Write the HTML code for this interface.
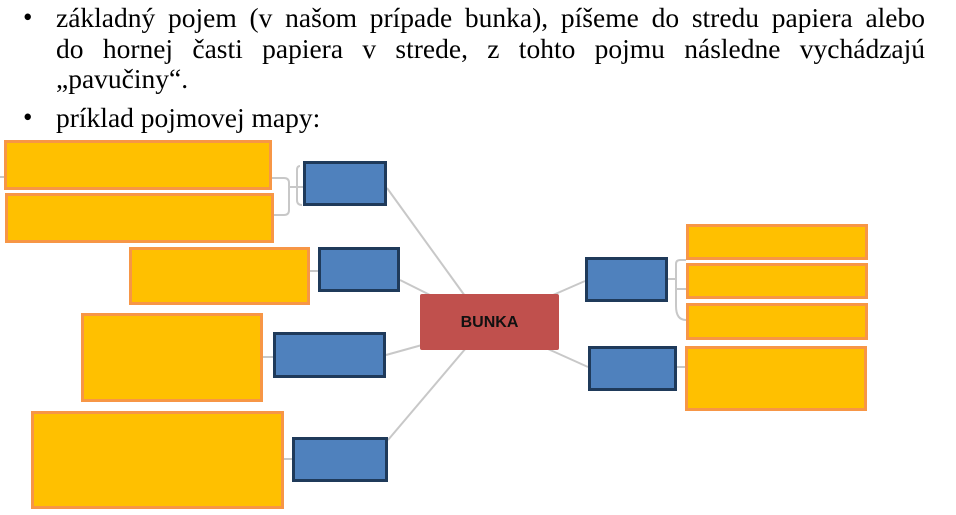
<!DOCTYPE html>
<html><head><meta charset="utf-8"><style>
body{margin:0;width:956px;height:515px;background:#fff;position:relative;overflow:hidden;font-family:"Liberation Serif",serif;}
.l{position:absolute;left:56px;font-size:27.5px;line-height:30px;white-space:nowrap;color:#000}
.j{width:869px;text-align:justify;text-align-last:justify;white-space:normal}
.b{position:absolute;left:23px;font-size:27px;line-height:30px}
svg{position:absolute;left:0;top:0}
</style></head><body>
<div class="b" style="top:2px">•</div>
<div class="l j" style="top:3px">základný pojem (v našom prípade bunka), píšeme do stredu papiera alebo</div>
<div class="l j" style="top:34px">do hornej časti papiera v strede, z tohto pojmu následne vychádzajú</div>
<div class="l" style="top:64px">„pavučiny“.</div>
<div class="b" style="top:102px">•</div>
<div class="l" style="top:103px">príklad pojmovej mapy:</div>
<svg width="956" height="515">
<g stroke="#c8c8c8" stroke-width="2" fill="none">
<line x1="387" y1="188" x2="465" y2="296"/>
<line x1="400" y1="280" x2="432" y2="296"/>
<line x1="386" y1="355" x2="422" y2="345"/>
<line x1="388" y1="440" x2="466" y2="348"/>
<line x1="553" y1="295" x2="585" y2="281"/>
<line x1="548" y1="349" x2="588" y2="367"/>
<line x1="0" y1="177" x2="6" y2="177"/>
<path d="M272 178 H284 Q289 178 289 183 V210 Q289 215 284 215 H274"/>
<path d="M289 187 H303"/>
<path d="M300 166 Q297 166 297 170 V200 Q297 205 302 205"/>
<path d="M310 271 H318"/>
<path d="M263 357 H273"/>
<path d="M284 459 H292"/>
<path d="M668 279 H676"/>
<path d="M686 260 H680 Q676 260 676 264 V306 Q676 320 686 320"/>
<path d="M676 289 H686"/>
<path d="M677 367 H686"/>
</g>
<g fill="#FFC000" stroke="#F79646" stroke-width="3">
<rect x="5.5" y="141.5" width="265" height="47"/>
<rect x="6.5" y="194.5" width="266" height="47"/>
<rect x="130.5" y="248.5" width="178" height="55"/>
<rect x="82.5" y="314.5" width="179" height="86"/>
<rect x="32.5" y="412.5" width="250" height="95"/>
<rect x="687.5" y="225.5" width="179" height="33"/>
<rect x="687.5" y="264.5" width="179" height="33"/>
<rect x="687.5" y="304.5" width="179" height="34"/>
<rect x="686.5" y="347.5" width="179" height="62"/>
</g>
<g fill="#4F81BD" stroke="#1F3A5A" stroke-width="3">
<rect x="304.5" y="162.5" width="81" height="42"/>
<rect x="319.5" y="248.5" width="79" height="42"/>
<rect x="274.5" y="333.5" width="110" height="43"/>
<rect x="293.5" y="438.5" width="93" height="42"/>
<rect x="586.5" y="258.5" width="80" height="42"/>
<rect x="589.5" y="347.5" width="86" height="42"/>
</g>
<rect x="420" y="294" width="139" height="56" rx="2" fill="#C0504D"/>
<text x="489.5" y="327" text-anchor="middle" font-family="Liberation Sans, sans-serif" font-weight="bold" font-size="16" fill="#111">BUNKA</text>
</svg>
</body></html>
